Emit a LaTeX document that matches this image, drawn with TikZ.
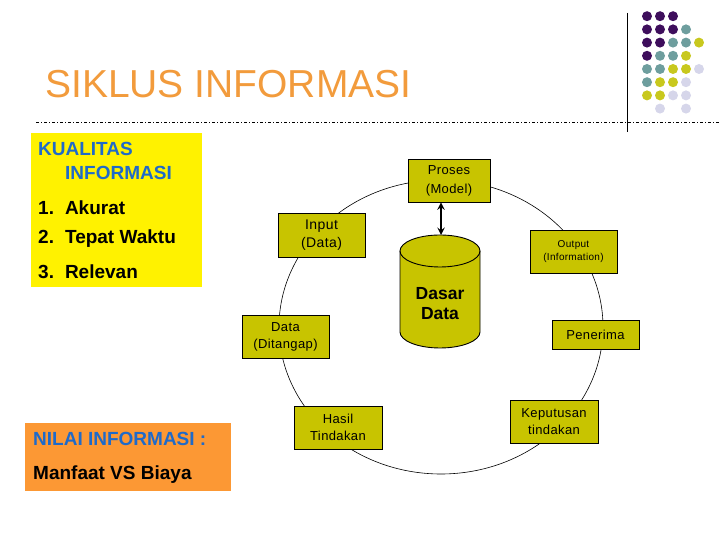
\documentclass[tikz,border=0pt]{standalone}
\usepackage{fontspec}
\setmainfont{Liberation Sans}
\newfontfamily\boxfont[LetterSpace=3]{Liberation Sans}
\usetikzlibrary{shapes}
\usetikzlibrary{arrows}
\usetikzlibrary{positioning}

\definecolor{titleorange}{RGB}{242,155,60}
\definecolor{kualblue}{RGB}{31,106,201}
\definecolor{boxolive}{RGB}{200,196,0}
\definecolor{nilaiorange}{RGB}{252,152,52}
\definecolor{dotpurple}{RGB}{62,14,92}
\definecolor{dotteal}{RGB}{110,158,158}
\definecolor{dotyellow}{RGB}{200,200,30}
\definecolor{dotlilac}{RGB}{214,214,234}

\begin{document}
\begin{tikzpicture}
        [x=1pt, y=1pt,
         stepbox/.style={rectangle, draw=black, line width=0.9pt, fill=boxolive,
                         align=center, inner sep=2pt,
                         font=\boxfont\fontsize{13}{17}\selectfont},
         listitem/.style={anchor=west, inner sep=0pt, font=\bfseries\fontsize{19}{22}\selectfont},
         dot/.style={circle, inner sep=0pt, minimum size=10pt}]
        \useasboundingbox (0,0) rectangle (720,540);
        % title and rules
        \node [anchor=base west, inner sep=0pt, text=titleorange,
               font=\fontsize{39}{44}\selectfont] (title) at (45,442) {SIKLUS INFORMASI};
        \draw [line width=0.8pt, dash pattern=on 3pt off 2pt on 1pt off 2pt] (36,418) -- (720,418);
        \draw [line width=1pt] (627,527) -- (627,408);
        % dots in the corner
        \foreach \row/\cols in {1/{dotpurple,dotpurple,dotpurple},
                                2/{dotpurple,dotpurple,dotpurple,dotteal},
                                3/{dotpurple,dotpurple,dotteal,dotteal,dotyellow},
                                4/{dotpurple,dotteal,dotteal,dotyellow},
                                5/{dotteal,dotteal,dotyellow,dotyellow,dotlilac},
                                6/{dotteal,dotyellow,dotyellow,dotlilac},
                                7/{dotyellow,dotyellow,dotlilac,dotlilac},
                                8/{none,dotlilac,none,dotlilac}}
          \foreach \c [count=\col] in \cols
            \ifx\c\none\else
              \node [dot, fill=\c] (dot-\row-\col) at (634+13*\col, 537-13.2*\row) {};
            \fi;
        % kualitas box
        \node [draw=none, fill=yellow, minimum width=171pt, minimum height=154pt, inner sep=0pt]
              (kualitas) at (116.5,330) {};
        \node [listitem, text=kualblue] (kual1) at (38,391) {KUALITAS};
        \node [listitem, text=kualblue] (kual2) at (65,367) {INFORMASI};
        \node [listitem] (akurat) at (38,332) {1.\hspace{11pt}Akurat};
        \node [listitem] (tepat) at (38,301) {2.\hspace{11pt}Tepat Waktu};
        \node [listitem] (relevan) at (38,268) {3.\hspace{11pt}Relevan};
        % nilai box
        \node [draw=none, fill=nilaiorange, minimum width=206pt, minimum height=68pt, inner sep=0pt]
              (nilai) at (128,83) {};
        \node [listitem, text=kualblue] (nilai1) at (33,101) {NILAI INFORMASI :};
        \node [listitem] (nilai2) at (33,65) {Manfaat VS Biaya};
        % cycle
        \draw [line width=0.6pt] (441,213) ellipse (162 and 147);
        \node [stepbox, minimum width=82pt, minimum height=43pt, font=\boxfont\fontsize{13}{19}\selectfont]
              (proses) at (449,359.5) {Proses\\(Model)};
        \node [stepbox, minimum width=87pt, minimum height=44pt, font=\boxfont\fontsize{14}{17.5}\selectfont]
              (input) at (321.5,305) {Input\\(Data)};
        \node [stepbox, minimum width=87pt, minimum height=43pt, font=\boxfont\fontsize{10}{13}\selectfont]
              (output) at (573.5,288.5) {Output\\(Information)};
        \node [stepbox, minimum width=87pt, minimum height=29pt] (penerima) at (595.5,205.5) {Penerima};
        \node [stepbox, minimum width=87pt, minimum height=43pt] (ditangap) at (285.5,203.5) {Data\\(Ditangap)};
        \node [stepbox, minimum width=88pt, minimum height=43pt] (hasil) at (338,112.5) {Hasil\\Tindakan};
        \node [stepbox, minimum width=88pt, minimum height=43pt] (keputusan) at (554,118.5) {Keputusan\\tindakan};
        % database
        \draw [line width=0.9pt, fill=boxolive] (400,289) -- (400,208) arc (180:360:40 and 16)
              -- (480,289) arc (0:180:40 and 16) -- cycle;
        \draw [line width=0.9pt] (400,289) arc (180:360:40 and 16);
        \coordinate (dbtop) at (441,305);
        \node [align=center, inner sep=0pt, font=\bfseries\fontsize{17.5}{20}\selectfont]
              (dasar) at (440,236) {Dasar\\Data};
        \draw [<->, >=stealth, line width=2.2pt] (proses.south -| dbtop) -- (dbtop);
    \end{tikzpicture}
\end{document}
